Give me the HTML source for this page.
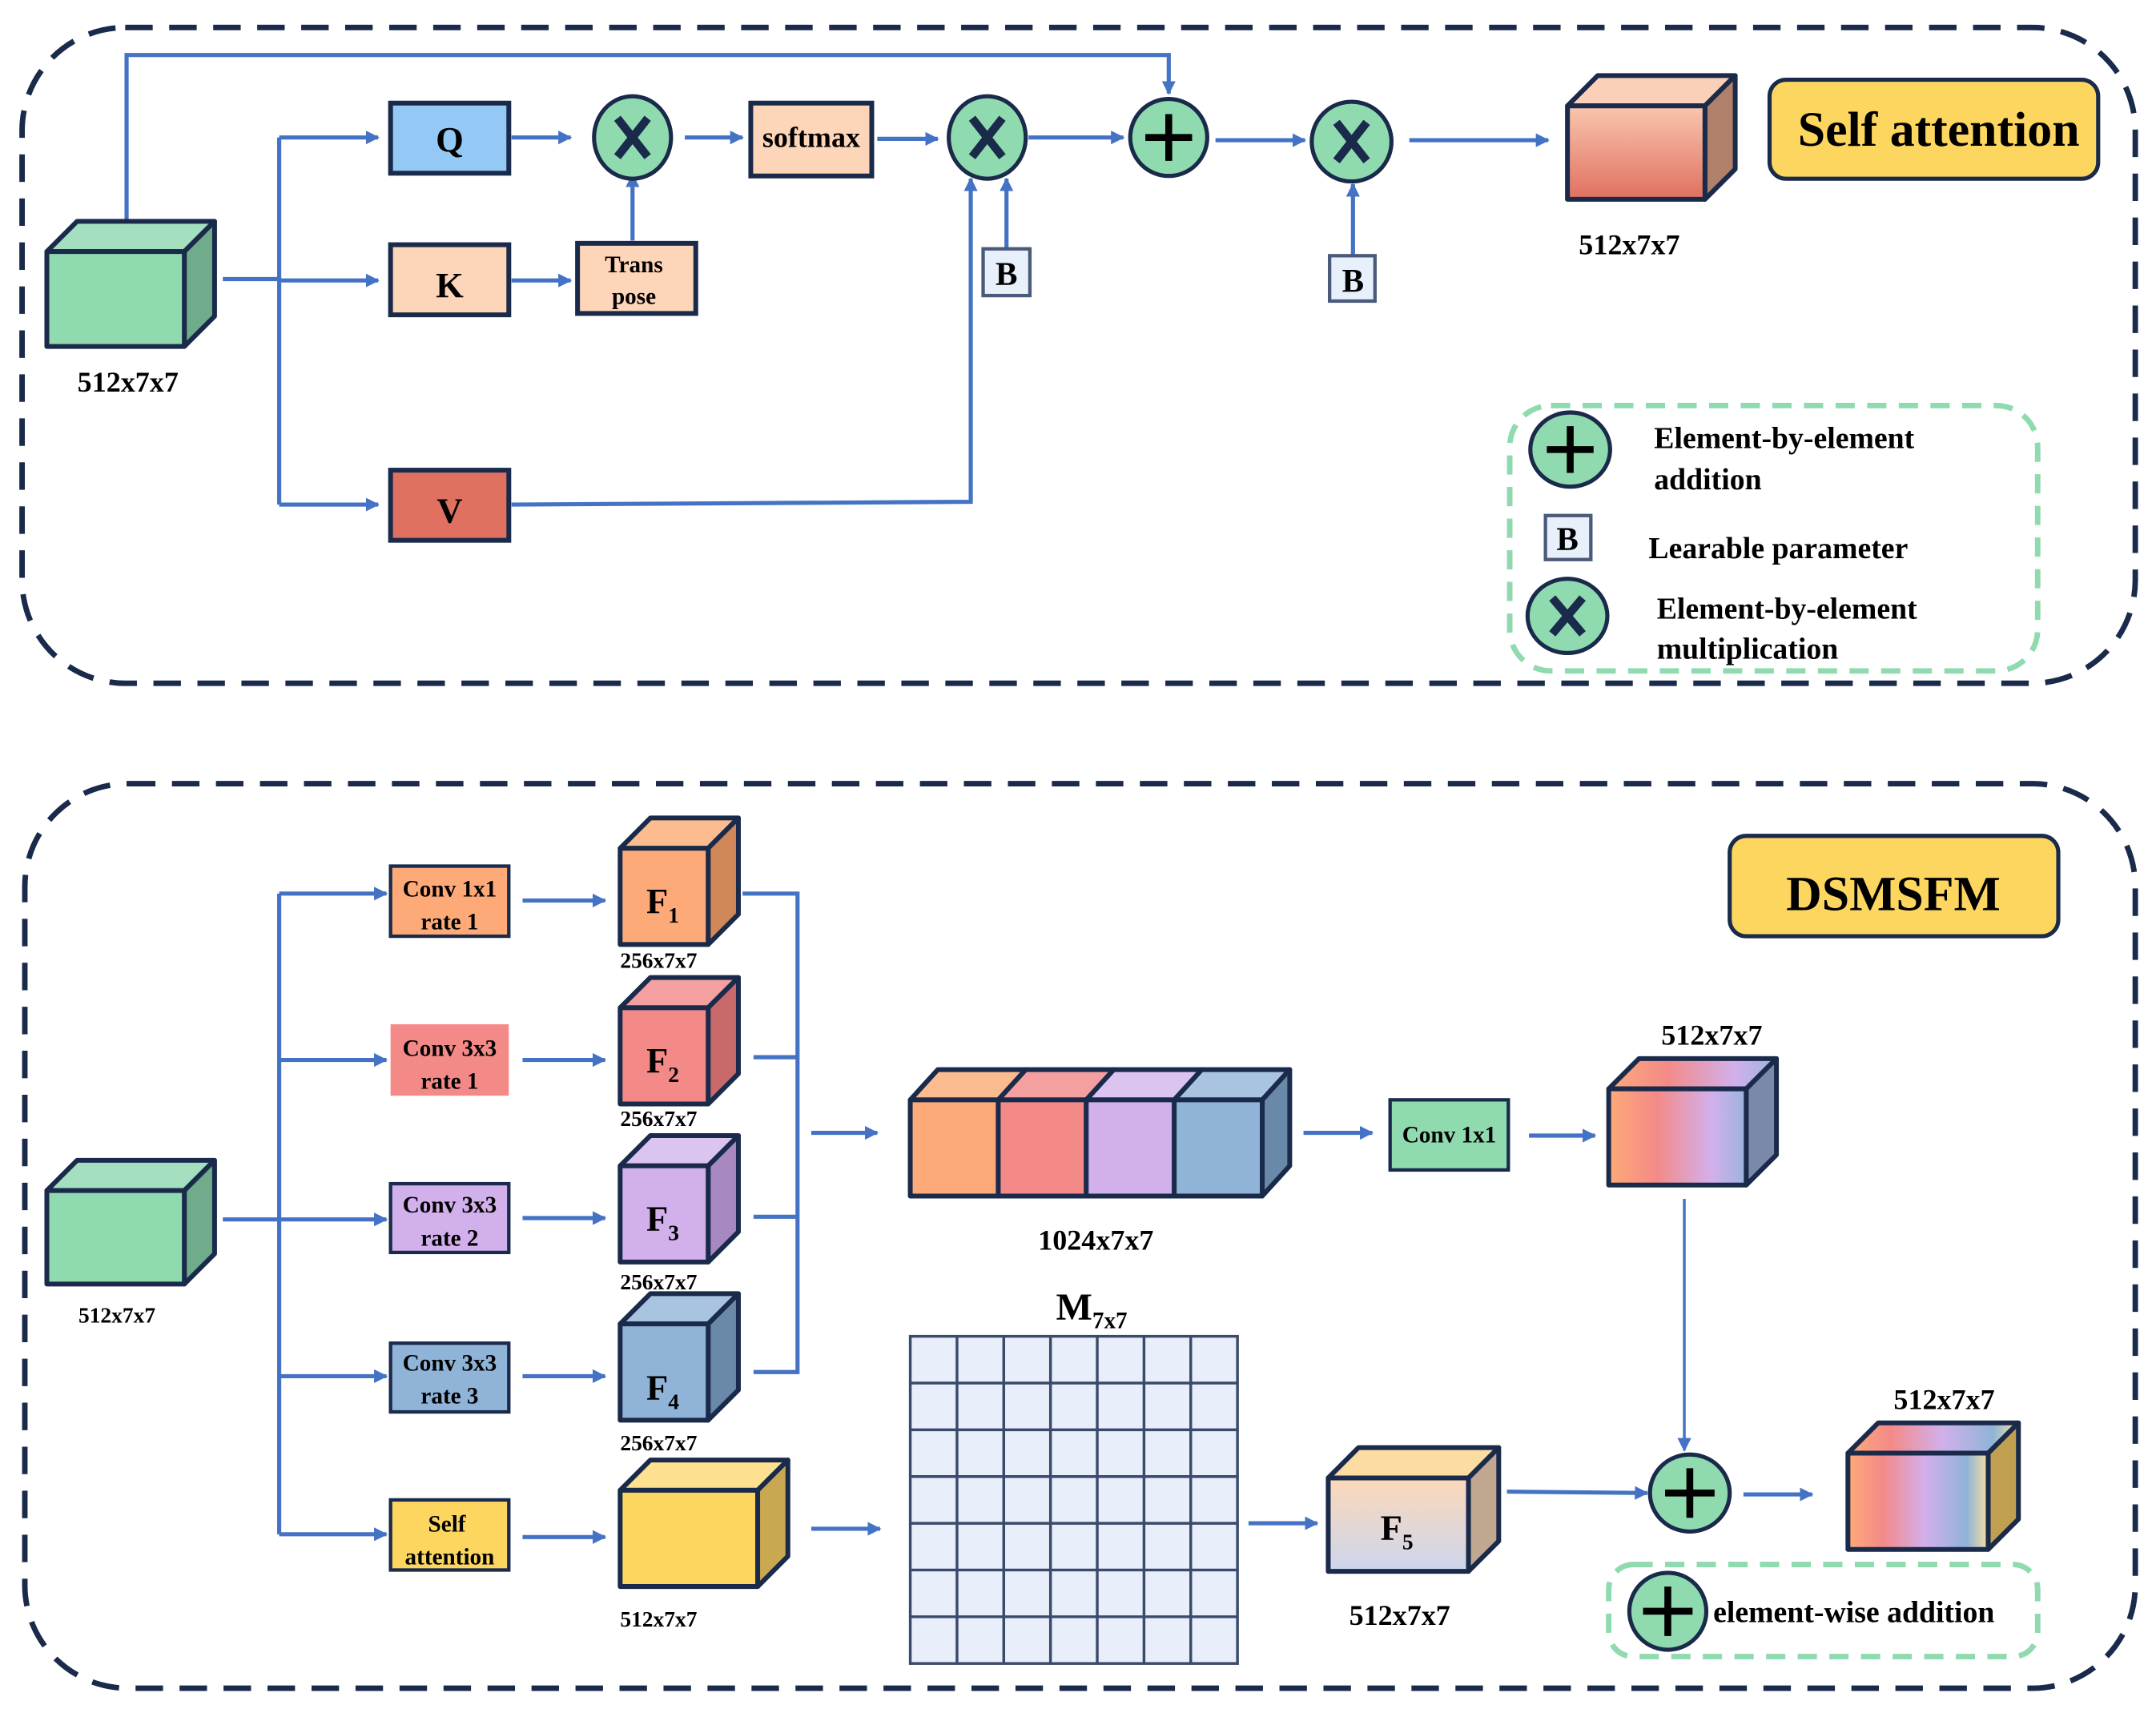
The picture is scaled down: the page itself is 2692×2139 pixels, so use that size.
<!DOCTYPE html>
<html><head><meta charset="utf-8"><style>html,body{margin:0;padding:0;background:#fff}svg{display:block}text{font-family:"Liberation Serif",serif;font-weight:bold;fill:#000}</style></head>
<body>
<svg width="2692" height="2139" viewBox="0 0 1568 1246" xmlns="http://www.w3.org/2000/svg">
<defs>
<marker id="a" markerWidth="10" markerHeight="10" refX="9" refY="5" orient="auto" markerUnits="userSpaceOnUse"><path d="M0,0 L10,5 L0,10 Z" fill="#4472c4"/></marker>
<linearGradient id="gOut" x1="0" y1="0" x2="0" y2="1"><stop offset="0" stop-color="#f9c6ae"/><stop offset="1" stop-color="#e07060"/></linearGradient>
<linearGradient id="gH" x1="0" y1="0" x2="1" y2="0"><stop offset="0" stop-color="#fdaa78"/><stop offset="0.35" stop-color="#f48a88"/><stop offset="0.75" stop-color="#d2b0ec"/><stop offset="1" stop-color="#9ab4dc"/></linearGradient>
<linearGradient id="gH2" x1="0" y1="0" x2="1" y2="0"><stop offset="0" stop-color="#fdaa78"/><stop offset="0.25" stop-color="#f48a88"/><stop offset="0.55" stop-color="#d2b0ec"/><stop offset="0.85" stop-color="#8fb4d8"/><stop offset="1" stop-color="#f8e0a0"/></linearGradient>
<linearGradient id="gF5" x1="0" y1="0" x2="0" y2="1"><stop offset="0" stop-color="#fbd8b8"/><stop offset="1" stop-color="#cdd6ee"/></linearGradient>
</defs>
<g fill="none" stroke="#1a2a4a" stroke-width="4" stroke-dasharray="20 12">
<rect x="16" y="20" width="1537" height="477" rx="75"/>
<rect x="18" y="570" width="1535" height="658" rx="75"/>
</g>
<g fill="none" stroke="#90dab0" stroke-width="4" stroke-dasharray="14 9">
<rect x="1098" y="295" width="384" height="193" rx="30"/>
<rect x="1170" y="1138" width="312" height="67" rx="18"/>
</g>
<!-- arrows top -->
<g stroke="#4472c4" stroke-width="3" fill="none">
<path d="M92,180 V40 H850 V68" marker-end="url(#a)"/>
<path d="M162,203 H203"/><path d="M203,100 V367"/>
<path d="M203,100 H275" marker-end="url(#a)"/>
<path d="M203,204 H275" marker-end="url(#a)"/>
<path d="M203,367 H275" marker-end="url(#a)"/>
<path d="M372,100 H415" marker-end="url(#a)"/>
<path d="M498,100 H540" marker-end="url(#a)"/>
<path d="M372,204 H415" marker-end="url(#a)"/>
<path d="M460,175 V127" marker-end="url(#a)"/>
<path d="M638,101 H682" marker-end="url(#a)"/>
<path d="M372,367 L706,365 V130" marker-end="url(#a)"/>
<path d="M732,181 V130" marker-end="url(#a)"/>
<path d="M748,100 H817" marker-end="url(#a)"/>
<path d="M884,102 H949" marker-end="url(#a)"/>
<path d="M984,186 V134" marker-end="url(#a)"/>
<path d="M1025,102 H1126" marker-end="url(#a)"/>
</g>
<!-- boxes top -->
<g stroke="#1a2a4a" stroke-width="3.5">
<rect x="284" y="75" width="86" height="51" fill="#94c8f5"/>
<rect x="284" y="178" width="86" height="51" fill="#fdd5b8"/>
<rect x="284" y="342" width="86" height="51" fill="#e07060"/>
<rect x="420" y="177" width="86" height="51" fill="#fdd5b8"/>
<rect x="546" y="75" width="88" height="53" fill="#fdd5b8"/>
</g>
<text x="327" y="110" font-size="26" text-anchor="middle">Q</text>
<text x="327" y="216" font-size="26" text-anchor="middle">K</text>
<text x="327" y="380" font-size="26" text-anchor="middle">V</text>
<text x="461" y="198" font-size="17" text-anchor="middle">Trans</text>
<text x="461" y="221" font-size="17" text-anchor="middle">pose</text>
<text x="590" y="107" font-size="21" text-anchor="middle">softmax</text>
<g stroke="#4a5a7a" stroke-width="2.5" fill="#e8f0fb">
<rect x="715" y="181" width="34" height="34"/><rect x="967" y="186" width="33" height="33"/><rect x="1124" y="375" width="33" height="32"/>
</g>
<text x="732" y="207" font-size="24" text-anchor="middle">B</text>
<text x="984" y="212" font-size="24" text-anchor="middle">B</text>
<text x="1140" y="400" font-size="24" text-anchor="middle">B</text>
<!-- circles -->
<g stroke="#1a2a4a" stroke-width="3" fill="#90dab0">
<ellipse cx="460" cy="100" rx="28" ry="30"/><ellipse cx="718" cy="100" rx="28" ry="30"/><ellipse cx="850" cy="100" rx="28" ry="28"/><ellipse cx="983" cy="103" rx="29" ry="29"/>
<ellipse cx="1142" cy="327" rx="29" ry="27"/><ellipse cx="1140" cy="448" rx="29" ry="27"/>
<ellipse cx="1229" cy="1086" rx="29" ry="28"/><ellipse cx="1213" cy="1172" rx="28" ry="28"/>
</g>
<g stroke="#1a2a4a" stroke-width="6">
<path d="M449,86 L471,114 M471,86 L449,114"/><path d="M707,86 L729,114 M729,86 L707,114"/>
<path d="M972,89 L994,117 M994,89 L972,117"/><path d="M1129,435 L1151,461 M1151,435 L1129,461"/>
</g>
<g stroke="#000" stroke-width="5">
<path d="M850,83 V117 M833,100 H867"/><path d="M1142,310 V344 M1125,327 H1159"/>
<path d="M1229,1068 V1104 M1211,1086 H1247"/><path d="M1213,1154 V1190 M1195,1172 H1231"/>
</g>
<!-- cubes -->
<g stroke="#1a2a4a" stroke-width="3.5" stroke-linejoin="round">
<!-- top input cube -->
<path d="M34,183 L56,161 H156 L134,183 Z" fill="#a4e0c0"/><path d="M134,183 L156,161 V230 L134,252 Z" fill="#70ac8c"/><rect x="34" y="183" width="100" height="69" fill="#90dab0"/>
<!-- output top -->
<path d="M1140,77 L1162,55 H1262 L1240,77 Z" fill="#fbd0b8"/><path d="M1240,77 L1262,55 V123 L1240,145 Z" fill="#b0806a"/><rect x="1140" y="77" width="100" height="68" fill="url(#gOut)"/>
<!-- bottom input -->
<path d="M34,866 L56,844 H156 L134,866 Z" fill="#a4e0c0"/><path d="M134,866 L156,844 V912 L134,934 Z" fill="#70ac8c"/><rect x="34" y="866" width="100" height="68" fill="#90dab0"/>
<!-- F1 -->
<path d="M451,617 L473,595 H537 L515,617 Z" fill="#fdbb90"/><path d="M515,617 L537,595 V665 L515,687 Z" fill="#d08858"/><rect x="451" y="617" width="64" height="70" fill="#fdaa78"/>
<path d="M451,733 L473,711 H537 L515,733 Z" fill="#f4a0a0"/><path d="M515,733 L537,711 V781 L515,803 Z" fill="#c86a6a"/><rect x="451" y="733" width="64" height="70" fill="#f48a88"/>
<path d="M451,848 L473,826 H537 L515,848 Z" fill="#dcc4f0"/><path d="M515,848 L537,826 V896 L515,918 Z" fill="#a888c0"/><rect x="451" y="848" width="64" height="70" fill="#d2b0ec"/>
<path d="M451,963 L473,941 H537 L515,963 Z" fill="#a8c4e0"/><path d="M515,963 L537,941 V1011 L515,1033 Z" fill="#6a88a8"/><rect x="451" y="963" width="64" height="70" fill="#8fb4d8"/>
<path d="M451,1084 L473,1062 H573 L551,1084 Z" fill="#fde090"/><path d="M551,1084 L573,1062 V1132 L551,1154 Z" fill="#c8a850"/><rect x="451" y="1084" width="100" height="70" fill="#fdd660"/>
<!-- concat -->
<path d="M662,800 L682,778 H746 L726,800 Z" fill="#fdbb90"/><path d="M726,800 L746,778 H810 L790,800 Z" fill="#f4a0a0"/><path d="M790,800 L810,778 H874 L854,800 Z" fill="#dcc4f0"/><path d="M854,800 L874,778 H938 L918,800 Z" fill="#a8c4e0"/>
<path d="M918,800 L938,778 V848 L918,870 Z" fill="#6a88a8"/>
<rect x="662" y="800" width="64" height="70" fill="#fdaa78"/><rect x="726" y="800" width="64" height="70" fill="#f48a88"/><rect x="790" y="800" width="64" height="70" fill="#d2b0ec"/><rect x="854" y="800" width="64" height="70" fill="#8fb4d8"/>
<!-- 512 after conv -->
<path d="M1170,792 L1192,770 H1292 L1270,792 Z" fill="url(#gH)"/><path d="M1270,792 L1292,770 V840 L1270,862 Z" fill="#7a88aa"/><rect x="1170" y="792" width="100" height="70" fill="url(#gH)"/>
<!-- F5 -->
<path d="M966,1075 L988,1053 H1090 L1068,1075 Z" fill="#fcdca0"/><path d="M1068,1075 L1090,1053 V1121 L1068,1143 Z" fill="#c0a890"/><rect x="966" y="1075" width="102" height="68" fill="url(#gF5)"/>
<!-- output bottom -->
<path d="M1344,1057 L1366,1035 H1468 L1446,1057 Z" fill="url(#gH2)"/><path d="M1446,1057 L1468,1035 V1105 L1446,1127 Z" fill="#c0a050"/><rect x="1344" y="1057" width="102" height="70" fill="url(#gH2)"/>
</g>
<!-- bottom conv boxes -->
<g stroke="#1a2a4a" stroke-width="2.5">
<rect x="284" y="630" width="86" height="51" fill="#fdaa78"/>
<rect x="284" y="745" width="86" height="52" fill="#f48a88" stroke="none"/>
<rect x="284" y="861" width="86" height="50" fill="#d2b0ec"/>
<rect x="284" y="977" width="86" height="50" fill="#8fb4d8"/>
<rect x="284" y="1091" width="86" height="51" fill="#fdd660"/>
<rect x="1011" y="800" width="86" height="51" fill="#90dab0"/>
</g>
<g font-size="17" text-anchor="middle">
<text x="327" y="652">Conv 1x1</text><text x="327" y="676">rate 1</text>
<text x="327" y="768">Conv 3x3</text><text x="327" y="792">rate 1</text>
<text x="327" y="882">Conv 3x3</text><text x="327" y="906">rate 2</text>
<text x="327" y="997">Conv 3x3</text><text x="327" y="1021">rate 3</text>
<text x="325" y="1114">Self</text><text x="327" y="1138">attention</text>
<text x="1054" y="831">Conv 1x1</text>
</g>
<!-- grid -->
<g stroke="#3a4a6a" stroke-width="2" fill="#e8eefa">
<rect x="662" y="972" width="238" height="238"/>
<path d="M696,972V1210M730,972V1210M764,972V1210M798,972V1210M832,972V1210M866,972V1210M662,1006H900M662,1040H900M662,1074H900M662,1108H900M662,1142H900M662,1176H900" fill="none"/>
</g>
<!-- bottom arrows -->
<g stroke="#4472c4" stroke-width="3" fill="none">
<path d="M162,887 H203"/><path d="M203,650 V1116"/>
<path d="M203,650 H281" marker-end="url(#a)"/><path d="M203,771 H281" marker-end="url(#a)"/><path d="M203,887 H281" marker-end="url(#a)"/><path d="M203,1001 H281" marker-end="url(#a)"/><path d="M203,1116 H281" marker-end="url(#a)"/>
<path d="M380,655 H440" marker-end="url(#a)"/><path d="M380,771 H440" marker-end="url(#a)"/><path d="M380,886 H440" marker-end="url(#a)"/><path d="M380,1001 H440" marker-end="url(#a)"/><path d="M380,1118 H440" marker-end="url(#a)"/>
<path d="M540,650 H580 V998 H548"/><path d="M548,769 H580"/><path d="M548,885 H580"/>
<path d="M590,824 H638" marker-end="url(#a)"/>
<path d="M948,824 H998" marker-end="url(#a)"/>
<path d="M1112,826 H1160" marker-end="url(#a)"/>
<path d="M590,1112 H640" marker-end="url(#a)"/>
<path d="M908,1108 H958" marker-end="url(#a)"/>
<path d="M1096,1085 L1198,1086" marker-end="url(#a)"/>
<path d="M1268,1087 H1318" marker-end="url(#a)"/>
</g>
<path d="M1225,872 V1055" stroke="#4472c4" stroke-width="2" marker-end="url(#a)"/>
<!-- labels -->
<g font-size="21" text-anchor="middle">
<text x="93" y="285">512x7x7</text>
<text x="1185" y="185">512x7x7</text>
<text x="797" y="909">1024x7x7</text>
<text x="1245" y="760">512x7x7</text>
<text x="1018" y="1182">512x7x7</text>
<text x="1414" y="1025">512x7x7</text>
</g>
<g font-size="16" text-anchor="middle">
<text x="85" y="962">512x7x7</text>
<text x="479" y="704">256x7x7</text><text x="479" y="819">256x7x7</text><text x="479" y="938">256x7x7</text><text x="479" y="1055">256x7x7</text>
<text x="479" y="1183">512x7x7</text>
</g>
<text x="470" y="664" font-size="26">F<tspan font-size="16" dy="7">1</tspan></text>
<text x="470" y="780" font-size="26">F<tspan font-size="16" dy="7">2</tspan></text>
<text x="470" y="895" font-size="26">F<tspan font-size="16" dy="7">3</tspan></text>
<text x="470" y="1018" font-size="26">F<tspan font-size="16" dy="7">4</tspan></text>
<text x="1004" y="1120" font-size="26">F<tspan font-size="16" dy="7">5</tspan></text>
<text x="768" y="960" font-size="28">M<tspan font-size="17" dy="6">7x7</tspan></text>
<g font-size="22">
<text x="1203" y="326">Element-by-element</text><text x="1203" y="356">addition</text>
<text x="1199" y="406">Learable parameter</text>
<text x="1205" y="450">Element-by-element</text><text x="1205" y="479">multiplication</text>
<text x="1246" y="1180">element-wise addition</text>
</g>
<rect x="1287" y="58" width="239" height="72" rx="12" fill="#fdd660" stroke="#1a2a4a" stroke-width="3"/>
<text x="1410" y="106" font-size="36" text-anchor="middle">Self  attention</text>
<rect x="1258" y="608" width="239" height="73" rx="12" fill="#fdd660" stroke="#1a2a4a" stroke-width="3"/>
<text x="1377" y="662" font-size="36" text-anchor="middle">DSMSFM</text>
</svg>
</body></html>
